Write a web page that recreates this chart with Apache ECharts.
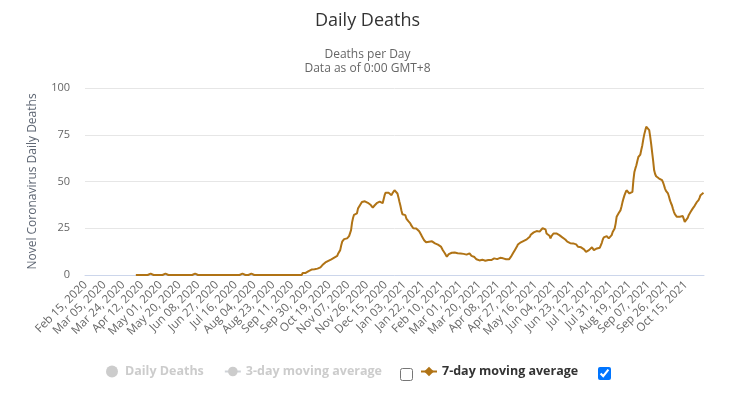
<!DOCTYPE html>
<html>
<head>
<meta charset="utf-8">
<script src="https://cdn.jsdelivr.net/npm/echarts@6/dist/echarts.min.js"></script>
<style>
html, body { margin: 0; padding: 0; background: #fff; }
#wrap { position: relative; width: 735px; height: 399px; }
#chart { width: 735px; height: 399px; }
.cb { position: absolute; margin: 0; width: 13px; height: 13px; }
</style>
</head>
<body>
<div id="wrap">
  <div id="chart"></div>
  <input type="checkbox" class="cb" style="left:400px;top:368px">
  <input type="checkbox" class="cb" style="left:598px;top:367px" checked>
</div>
<script>
// first day of the series, one category per day
var startDay = Date.UTC(2020, 1, 15);
var monthNames = ['Jan', 'Feb', 'Mar', 'Apr', 'May', 'Jun', 'Jul', 'Aug', 'Sep', 'Oct', 'Nov', 'Dec'];

// 7-day moving average, Feb 15 2020 .. Dec 31 2020
var avg2020 = [
  null, null, null, null, null, null, null, null, null, null,
  null, null, null, null, null, null, null, null, null, null,
  null, null, null, null, null, null, null, null, null, null,
  null, null, null, null, null, null, null, null, null, null,
  null, null, null, null, null, null, null, null, null, null,
  null, 0, 0.7, 0, 0, 0, 0.7, 0, 0, 0,
  0, 0, 0, 0, 0, 0, 0.7, 0, 0, 0,
  0.7, 0, 0, 0, 0.7, 0, 0, 0.7, 0, 0.7,
  0, 0.7, 0, 0, 0, 0, 0.7, 0, 0, 0.7,
  0, 0, 0.7, 0, 0, 0, 0, 0, 0, 0,
  0, 0, 0, 0, 0, 0, 0, 0, 0, 0,
  0, 0.7, 0, 0, 0, 0, 0, 0, 0, 0,
  0, 0, 0.7, 0, 0, 0, 0, 0, 0, 0,
  0, 0, 0, 0, 0, 0, 0, 0.7, 0, 0,
  0, 0, 0, 0, 0, 0, 0, 0, 0, 0,
  0, 0, 0, 0, 0, 0, 0, 0, 0, 0.7,
  0, 0, 0, 0, 0, 0, 0, 0, 0.7, 0,
  0, 0, 0, 0, 0, 0, 0, 0, 0, 0,
  0, 0, 0, 0, 0, 0, 0, 0, 0, 0,
  0, 0, 0, 0, 0.7, 0, 0.7, 0, 0, 0,
  0, 0, 0, 0, 0, 0, 0, 0, 0, 0,
  0, 0, 0, 0, 0, 0, 0, 0, 0, 0,
  1.1, 1.1, 1.1, 1.1, 1.3, 1.6, 2.1, 2.1, 2.3, 2.9,
  3.0, 3.1, 3.1, 3.1, 3.3, 3.4, 3.6, 3.9, 4.1, 4.4,
  5.3, 6.0, 6.3, 6.7, 7.0, 7.3, 7.6, 7.6, 8.0, 8.4,
  8.6, 9.4, 9.3, 9.4, 9.4, 10.2, 11.5, 12.4, 13.3, 15.8,
  17.8, 18.8, 19.2, 19.0, 19.4, 19.6, 20.2, 20.8, 21.3, 24.0,
  28.0, 30.5, 32.2, 33.0, 33.2, 33.0, 35.5, 36.4, 37.3, 38.2,
  39.0, 40.0, 40.0, 39.4, 39.2, 39.0, 38.6, 38.4, 38.2, 37.4,
  36.8, 36.0, 36.6, 37.3, 37.8, 38.4, 38.8, 39.0, 39.2, 39.0,
  39.0, 38.4, 40.5, 42.7, 44.0, 44.4, 43.2, 44.0, 45.0, 43.6,
  42.7, 43.8, 44.4, 45.3, 46.2, 44.8, 43.6, 41.5, 39.2, 37.0,
  34.5
];

// 7-day moving average, Jan 1 2021 .. Nov 2 2021
var avg2021 = [
  32.5, 32.0, 31.8, 32.0, 30.2, 29.3, 28.8, 28.4, 27.6,
  26.5, 25.8, 25.0, 24.4, 24.6, 24.9, 24.8, 24.2, 23.4, 23.0,
  21.5, 20.4, 19.6, 18.6, 17.8, 17.5, 17.2, 17.2, 17.8, 18.5,
  18.7, 18.0, 17.5, 17.2, 16.9, 16.5, 16.5, 16.2, 16.0, 15.6,
  15.2, 14.2, 13.2, 12.4, 11.6, 10.6, 9.8, 10.2, 11.2, 11.4,
  11.6, 11.9, 11.8, 11.6, 12.0, 12.4, 12.0, 11.6, 11.2, 11.3,
  11.5, 11.6, 11.4, 11.3, 11.2, 11.0, 10.9, 10.7, 11.0, 11.6,
  10.8, 10.2, 9.8, 11.2, 9.6, 8.8, 8.4, 8.0, 7.6, 7.8,
  7.6, 7.9, 8.2, 8.4, 8.0, 7.6, 8.0, 8.4, 8.0, 7.8,
  7.6, 8.0, 8.4, 8.6, 8.9, 8.8, 8.6, 8.5, 8.5, 8.8,
  9.2, 9.4, 9.2, 8.9, 8.9, 8.6, 8.4, 8.4, 8.4, 8.4,
  9.0, 9.8, 10.5, 11.6, 12.5, 13.4, 14.2, 15.2, 16.3, 16.9,
  17.2, 17.5, 17.8, 18.0, 18.3, 18.5, 18.7, 19.1, 19.6, 20.0,
  20.4, 21.5, 22.2, 22.5, 22.8, 23.1, 23.3, 23.5, 23.6, 23.4,
  23.2, 23.1, 24.0, 25.0, 25.8, 25.0, 24.4, 22.2, 22.8, 23.1,
  21.0, 19.6, 20.8, 21.5, 22.2, 22.2, 22.2, 22.2, 21.8, 21.5,
  21.3, 21.0, 20.5, 20.1, 19.8, 19.4, 19.0, 18.5, 17.8, 17.2,
  17.0, 17.0, 16.9, 16.9, 16.9, 16.9, 16.9, 16.4, 15.8, 15.1,
  15.0, 14.9, 14.8, 14.4, 14.0, 13.7, 13.0, 12.4, 12.6, 13.0,
  13.3, 13.3, 14.2, 14.8, 14.0, 13.3, 13.0, 13.4, 14.2, 14.2,
  14.2, 14.6, 15.1, 17.2, 19.0, 20.1, 20.8, 20.8, 20.8, 20.1,
  19.6, 18.7, 18.7, 21.3, 23.0, 23.6, 24.9, 27.5, 31.1, 31.8,
  33.0, 33.2, 34.7, 36.8, 39.1, 41.0, 42.7, 44.0, 45.3, 44.8,
  44.4, 43.6, 43.2, 44.0, 44.4, 50.7, 55.1, 57.0, 58.7, 61.0,
  63.1, 64.0, 64.4, 67.0, 69.3, 72.5, 75.2, 77.3, 79.3, 80.0,
  79.2, 77.5, 74.0, 70.0, 65.5, 61.0, 56.0, 54.0, 52.8, 52.5,
  52.0, 51.6, 51.2, 51.0, 50.7, 49.5, 48.0, 46.2, 45.0, 44.2,
  43.6, 42.0, 40.0, 38.5, 37.3, 35.5, 33.8, 32.5, 31.5, 31.1,
  31.6, 32.0, 31.2, 30.8, 31.0, 31.5, 30.0, 28.4, 28.8, 29.3,
  30.5, 32.0, 32.9, 33.8, 34.7, 35.5, 36.4, 37.0, 37.9, 38.8,
  39.5, 40.0, 41.2, 42.7, 43.0, 43.6, 44.0
];

// hidden series (switched off in the legend)
var dailyDeaths = [];
var avg3day = [];

var yMin = 0, yMax = 100, yStep = 25;

var avg7day = avg2020.concat(avg2021);

var dates = [];
for (var i = 0; i < avg7day.length; i++) {
    var d = new Date(startDay + i * 86400000);
    var dd = d.getUTCDate();
    dates.push(monthNames[d.getUTCMonth()] + ' ' + (dd < 10 ? '0' + dd : dd) + ', ' + d.getUTCFullYear());
}

var font = '"Open Sans", "Liberation Sans", sans-serif';
var lineColor = '#b07315';

var chart = echarts.init(document.getElementById('chart'));

var option = {
    animation: false,
    backgroundColor: '#fff',
    title: [
        {
            text: 'Daily Deaths',
            left: 'center',
            top: 7,
            textStyle: { fontFamily: font, fontSize: 18, fontWeight: 'normal', color: '#333333' }
        },
        {
            text: 'Deaths per Day\nData as of 0:00 GMT+8',
            left: 'center',
            top: 43,
            textStyle: { fontFamily: font, fontSize: 12, fontWeight: 'normal', color: '#666666', lineHeight: 14 }
        }
    ],
    grid: { left: 85, right: 31, top: 88, bottom: 124 },
    legend: [
        {
            data: [{ name: 'Daily Deaths', icon: 'circle' }, '3-day moving average'],
            left: 106,
            top: 365,
            padding: 0,
            itemGap: 20,
            itemWidth: 16,
            itemHeight: 12,
            inactiveColor: '#cccccc',
            selected: { 'Daily Deaths': false, '3-day moving average': false },
            textStyle: { fontFamily: font, fontSize: 12.5, fontWeight: 'bold', color: '#333333' }
        },
        {
            data: ['7-day moving average'],
            left: 420,
            top: 365,
            padding: 0,
            itemWidth: 16,
            itemHeight: 12,
            textStyle: { fontFamily: font, fontSize: 12.5, fontWeight: 'bold', color: '#333333' }
        }
    ],
    xAxis: {
        type: 'category',
        data: dates,
        boundaryGap: true,
        axisLine: { lineStyle: { color: '#ccd6eb' } },
        axisTick: { show: false },
        axisLabel: {
            interval: 18,
            rotate: 45,
            margin: 8,
            color: '#666666',
            fontSize: 11.5,
            fontFamily: font
        }
    },
    yAxis: {
        type: 'value',
        min: yMin,
        max: yMax,
        interval: yStep,
        name: 'Novel Coronavirus Daily Deaths',
        nameLocation: 'middle',
        nameGap: 46,
        nameTextStyle: { color: '#5e6673', fontSize: 12, fontFamily: font },
        axisLine: { show: false },
        axisTick: { show: false },
        axisLabel: { color: '#666666', fontSize: 11, fontFamily: font, margin: 15 },
        splitLine: { lineStyle: { color: '#e6e6e6' } }
    },
    series: [
        {
            name: 'Daily Deaths',
            type: 'bar',
            data: dailyDeaths,
            itemStyle: { color: '#cccccc' }
        },
        {
            name: '3-day moving average',
            type: 'line',
            data: avg3day,
            symbol: 'circle',
            itemStyle: { color: '#cccccc' }
        },
        {
            name: '7-day moving average',
            type: 'line',
            data: avg7day,
            symbol: 'diamond',
            symbolSize: 8,
            showSymbol: false,
            connectNulls: false,
            lineStyle: { width: 2, color: lineColor },
            itemStyle: { color: lineColor }
        }
    ]
};

chart.setOption(option);
</script>
</body>
</html>
